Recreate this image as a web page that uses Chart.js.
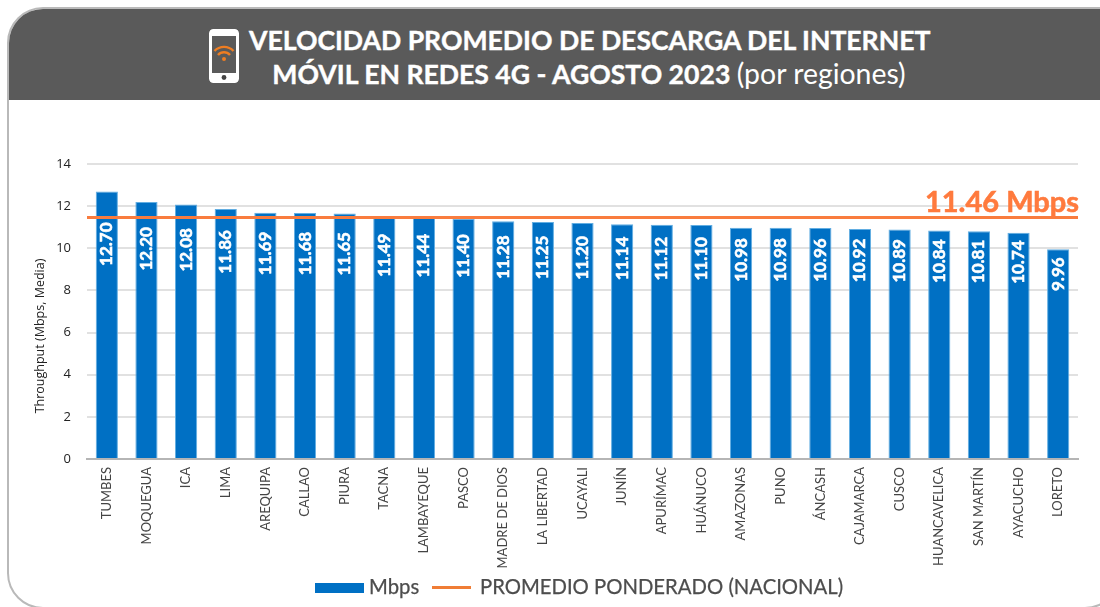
<!DOCTYPE html>
<html lang="es">
<head>
<meta charset="utf-8">
<title>Velocidad promedio de descarga</title>
<script src="https://cdn.jsdelivr.net/npm/chart.js@4/dist/chart.umd.min.js"></script>
<style>
    html, body { margin: 0; padding: 0; background: #fff; width: 1100px; height: 607px; overflow: hidden; font-family: Lato, sans-serif; }
    #card {
        position: absolute; left: 7px; top: 7px; width: 1110px; height: 598px;
        border: 2px solid #b9b9b9; border-radius: 36px 0 36px 36px; overflow: hidden; box-sizing: content-box;
    }
    #header { position: absolute; left: 0; top: 0; right: 0; height: 91px; background: #5a5a5a; }
    #title {
        position: absolute; left: 240px; top: 15px; width: 680px; text-align: center;
        color: #fff; font-size: 26.6px; line-height: 33px; font-weight: 700; white-space: nowrap;
        -webkit-text-stroke: 0.4px #fff;
    }
    #title span { font-weight: 400; font-size: 28.4px; -webkit-text-stroke: 0; }
    #phone { position: absolute; left: 200px; top: 20px; }
    #chart { position: absolute; left: 0; top: 0; }
    #legend {
        position: absolute; left: 0; top: 573px; height: 26px; width: 1100px;
        font-size: 20.3px; line-height: 26px; color: #4d4d4d; white-space: nowrap;
        -webkit-text-stroke: 0.25px #4d4d4d;
    }
    #legend i, #legend b { position: absolute; font-weight: 400; font-style: normal; }
</style>
</head>
<body>
<div id="card">
    <div id="header">
        <svg id="phone" width="30" height="54" viewBox="0 0 30 54">
            <rect x="1.5" y="1.5" width="27" height="51" rx="3" fill="#5a5a5a" stroke="#fff" stroke-width="3"/>
            <rect x="1" y="1" width="28" height="6" rx="2" fill="#fff"/>
            <rect x="1" y="44" width="28" height="9" rx="2" fill="#fff"/>
            <circle cx="15" cy="48.5" r="2.4" fill="#444"/>
            <path d="M5.5 22 a13 13 0 0 1 19 0 M9 26 a8 8 0 0 1 12 0" fill="none" stroke="#ee7d22" stroke-width="2.4"/>
            <circle cx="15" cy="30" r="2" fill="#ee7d22"/>
        </svg>
        <div id="title">VELOCIDAD PROMEDIO DE DESCARGA DEL INTERNET<br>MÓVIL EN REDES 4G - AGOSTO 2023 <span>(por regiones)</span></div>
    </div>
</div>
<canvas id="chart" width="1100" height="607"></canvas>
<div id="legend">
    <i style="left:315px;top:10px;width:49px;height:10px;background:#0070c4"></i>
    <b style="left:369px;top:0">Mbps</b>
    <i style="left:432px;top:13px;width:39px;height:3px;background:#f07d35"></i>
    <b style="left:480px;top:0">PROMEDIO PONDERADO (NACIONAL)</b>
</div>
<script>
const regiones = ['TUMBES', 'MOQUEGUA', 'ICA', 'LIMA', 'AREQUIPA', 'CALLAO', 'PIURA', 'TACNA', 'LAMBAYEQUE', 'PASCO',
    'MADRE DE DIOS', 'LA LIBERTAD', 'UCAYALI', 'JUNÍN', 'APURÍMAC', 'HUÁNUCO', 'AMAZONAS', 'PUNO', 'ÁNCASH',
    'CAJAMARCA', 'CUSCO', 'HUANCAVELICA', 'SAN MARTÍN', 'AYACUCHO', 'LORETO'];
const mbps = [12.70, 12.20, 12.08, 11.86, 11.69, 11.68, 11.65, 11.49, 11.44, 11.40,
    11.28, 11.25, 11.20, 11.14, 11.12, 11.10, 10.98, 10.98, 10.96,
    10.92, 10.89, 10.84, 10.81, 10.74, 9.96];
const promedio = 11.46;
const promedioLabel = '11.46 Mbps';
const yTitle = 'Throughput (Mbps, Media)';

// etiquetas giradas dentro de las barras, promedio y titulo del eje y
const overlayPlugin = {
    id: 'overlay',
    afterDatasetsDraw(chart) {
        const { ctx, scales: { y }, chartArea } = chart;
        const bars = chart.getDatasetMeta(0).data;

        ctx.save();
        ctx.fillStyle = '#fff';
        ctx.strokeStyle = '#fff';
        ctx.lineWidth = 0.6;
        ctx.font = '700 17px Lato, sans-serif';
        ctx.textAlign = 'left';
        ctx.textBaseline = 'middle';
        bars.forEach((bar, i) => {
            ctx.save();
            ctx.translate(bar.x, y.getPixelForValue(3.65 + 0.434 * mbps[i]));
            ctx.rotate(-Math.PI / 2);
            ctx.fillText(mbps[i].toFixed(2), 0, 0);
            ctx.strokeText(mbps[i].toFixed(2), 0, 0);
            ctx.restore();
        });

        ctx.fillStyle = '#ff7a3d';
        ctx.strokeStyle = '#ff7a3d';
        ctx.font = '700 29px Lato, sans-serif';
        ctx.textAlign = 'right';
        ctx.textBaseline = 'alphabetic';
        ctx.fillText(promedioLabel, chartArea.right + 1, y.getPixelForValue(promedio) - 6);
        ctx.strokeText(promedioLabel, chartArea.right + 1, y.getPixelForValue(promedio) - 6);

        ctx.fillStyle = '#222';
        ctx.font = '12.5px "Open Sans", sans-serif';
        ctx.textAlign = 'center';
        ctx.textBaseline = 'middle';
        ctx.translate(40, 336);
        ctx.rotate(-Math.PI / 2);
        ctx.fillText(yTitle, 0, 0);
        ctx.restore();
    },
};

new Chart(document.getElementById('chart'), {
    type: 'bar',
    data: {
        labels: regiones,
        datasets: [
            {
                label:           'Mbps',
                data:            mbps,
                backgroundColor: '#0070c4',
                borderColor:     '#62aee2',
                borderWidth:     1,
                barPercentage:   0.56,
                categoryPercentage: 1,
                grouped:         false,
                order:           2,
            },
            {
                type:        'line',
                label:       'PROMEDIO PONDERADO (NACIONAL)',
                data:        [{ x: 0, y: promedio }, { x: 1, y: promedio }],
                xAxisID:     'xLine',
                borderColor: '#f97c3e',
                borderWidth: 3,
                pointRadius: 0,
                order:       1,
            },
        ],
    },
    options: {
        responsive: false,
        animation:  false,
        layout: { padding: { top: 164, right: 22, left: 0, bottom: 0 } },
        plugins: {
            legend:  { display: false },
            tooltip: { enabled: false },
        },
        scales: {
            x: {
                afterFit(scale) { scale.height = 148; },
                grid:   { display: false },
                border: { color: '#b5b5b5', width: 2 },
                ticks:  {
                    color: '#444',
                    font: { family: 'Lato, sans-serif', size: 13 },
                    minRotation: 90,
                    maxRotation: 90,
                    autoSkip: false,
                    padding: 0,
                },
            },
            xLine: { type: 'linear', display: false, min: 0, max: 1, offset: false },
            y: {
                min: 0,
                max: 14,
                afterFit(scale) { scale.width = 87; },
                grid:   { color: '#e1e1e1', lineWidth: 2, drawTicks: false },
                border: { display: false },
                ticks:  {
                    stepSize: 2,
                    color: '#222',
                    font: { family: '"Open Sans", sans-serif', size: 13 },
                    padding: 16,
                },
            },
        },
    },
    plugins: [overlayPlugin],
});
</script>
</body>
</html>
